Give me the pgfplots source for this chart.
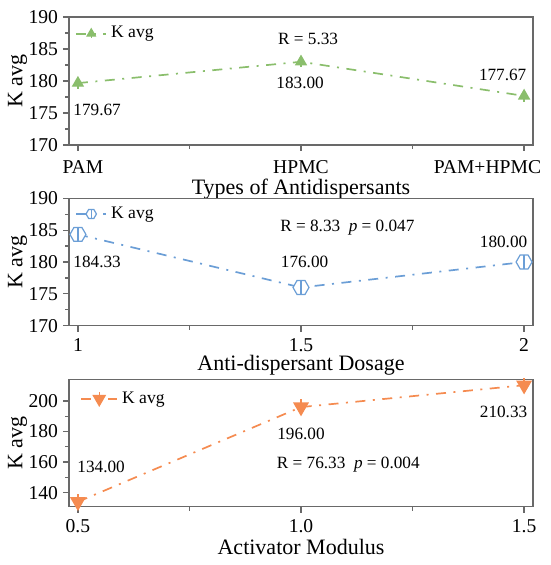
\documentclass[border=0pt]{standalone}
\usepackage{fontspec}
\setmainfont{Liberation Serif}
\usepackage{pgfplots}
\pgfplotsset{compat=1.18}
\definecolor{cgreen}{RGB}{138,190,108}
\definecolor{cblue}{RGB}{107,158,214}
\definecolor{corange}{RGB}{245,139,80}
\definecolor{axgray}{RGB}{105,105,105}

\pgfdeclareplotmark{tribar}{%
  \pgfpathmoveto{\pgfqpoint{0pt}{\pgfplotmarksize}}%
  \pgfpathlineto{\pgfqpoint{0.866\pgfplotmarksize}{-0.5\pgfplotmarksize}}%
  \pgfpathlineto{\pgfqpoint{-0.866\pgfplotmarksize}{-0.5\pgfplotmarksize}}%
  \pgfpathclose
  \pgfusepathqfillstroke
  \pgfpathmoveto{\pgfqpoint{0pt}{-0.5\pgfplotmarksize}}%
  \pgfpathlineto{\pgfqpoint{0pt}{-0.95\pgfplotmarksize}}%
  \pgfusepathqstroke
}
\pgfdeclareplotmark{invtribar}{%
  \pgfpathmoveto{\pgfqpoint{0pt}{-\pgfplotmarksize}}%
  \pgfpathlineto{\pgfqpoint{0.866\pgfplotmarksize}{0.5\pgfplotmarksize}}%
  \pgfpathlineto{\pgfqpoint{-0.866\pgfplotmarksize}{0.5\pgfplotmarksize}}%
  \pgfpathclose
  \pgfusepathqfillstroke
  \pgfpathmoveto{\pgfqpoint{0pt}{0.5\pgfplotmarksize}}%
  \pgfpathlineto{\pgfqpoint{0pt}{0.95\pgfplotmarksize}}%
  \pgfusepathqstroke
}
\pgfdeclareplotmark{hexbar}{%
  \pgfpathmoveto{\pgfqpoint{\pgfplotmarksize}{0pt}}%
  \pgfpathlineto{\pgfqpoint{0.5\pgfplotmarksize}{0.866\pgfplotmarksize}}%
  \pgfpathlineto{\pgfqpoint{-0.5\pgfplotmarksize}{0.866\pgfplotmarksize}}%
  \pgfpathlineto{\pgfqpoint{-\pgfplotmarksize}{0pt}}%
  \pgfpathlineto{\pgfqpoint{-0.5\pgfplotmarksize}{-0.866\pgfplotmarksize}}%
  \pgfpathlineto{\pgfqpoint{0.5\pgfplotmarksize}{-0.866\pgfplotmarksize}}%
  \pgfpathclose
  \pgfusepathqfillstroke
  \pgfpathmoveto{\pgfqpoint{0pt}{0.9\pgfplotmarksize}}%
  \pgfpathlineto{\pgfqpoint{0pt}{-0.9\pgfplotmarksize}}%
  \pgfusepathqstroke
}

\pgfplotsset{
  panel/.style={
    scale only axis, width=232pt, height=64pt,
    axis line style={draw=axgray, line width=0.65pt},
    tick align=outside, tick pos=left,
    major tick length=3pt, minor tick length=2pt,
    tick style={draw=axgray, line width=0.6pt},
    ticklabel style={font=\fontsize{9.8}{11}\selectfont},
    yticklabel style={xshift=1pt},
    /pgf/number format/assume math mode=true,
    every axis x label/.style={at={(axis description cs:0.5,0)}, anchor=north, inner sep=0pt, font=\fontsize{11}{13}\selectfont},
    every axis y label/.style={at={(axis description cs:0,0.5)}, rotate=90, anchor=center, inner sep=0pt, yshift=25.75pt, font=\fontsize{11}{13}\selectfont},
    ylabel={K avg},
    clip=false,
    minor y tick num=1,
    legend style={draw=none, fill=none, at={(axis description cs:0,1)}, anchor=north west,
      font=\fontsize{8.8}{10}\selectfont, inner sep=0pt},
    legend cell align=left,
  },
  kline/.style={line width=0.85pt, dash pattern=on 5pt off 3.75pt on 1pt off 3.75pt},
}
\tikzset{anno/.style={font=\fontsize{8.6}{10}\selectfont, inner sep=0pt, anchor=center}}

\begin{document}
\begin{tikzpicture}
\path[use as bounding box] (0,0) rectangle (275pt,-282.5pt);

% ---------- Panel 1 ----------
\begin{axis}[panel, at={(34.5pt,-72.5pt)}, anchor=south west,
  xmin=-0.04, xmax=2.04, ymin=170, ymax=190,
  xtick={0,1,2},
  xticklabels={\hspace*{5pt}PAM, HPMC, \makebox[0pt][r]{PAM+HPMC\hspace*{-8.5pt}}},
  xticklabel style={yshift=-1.2pt},
  minor xtick={0.5,1.5},
  ytick={170,175,180,185,190},
  xlabel={Types of Antidispersants}, xlabel style={yshift=-16.9pt},
  legend style={xshift=3pt, yshift=-2.5pt},
  legend image code/.code={\draw[mark repeat=2,mark phase=2,#1, mark size=2.4pt] plot coordinates {(0pt,0pt) (7.5pt,0pt) (15pt,0pt)};},
]
\addplot[kline, color=cgreen, mark=tribar, mark size=3pt,
  mark options={solid, line width=0.6pt, fill=cgreen}]
  coordinates {(0,179.67) (1,183.00) (2,177.67)};
\addlegendentry{K avg}
\node[anno] at (axis cs:1.032,186.5) {R = 5.33};
\node[anno] at (axis cs:0.086,175.47) {179.67};
\node[anno] at (axis cs:0.996,179.64) {183.00};
\node[anno] at (axis cs:1.904,180.94) {177.67};
\end{axis}

% ---------- Panel 2 ----------
\begin{axis}[panel, at={(34.5pt,-162.85pt)}, anchor=south west, height=63.7pt,
  xmin=0.98, xmax=2.02, ymin=170, ymax=190,
  xtick={1,1.5,2}, minor xtick={1.25,1.75},
  ytick={170,175,180,185,190},
  xlabel={Anti-dispersant Dosage}, xlabel style={yshift=-14.7pt},
  legend style={xshift=3pt, yshift=-2pt},
  legend image code/.code={\draw[mark repeat=2,mark phase=2,#1, mark size=2.6pt] plot coordinates {(0pt,0pt) (7.5pt,0pt) (15pt,0pt)};},
]
\addplot[kline, color=cblue, mark=hexbar, mark size=4pt,
  mark options={solid, line width=0.6pt, fill=white}]
  coordinates {(1,184.33) (1.5,176.00) (2,180.00)};
\addlegendentry{K avg}
\node[anno] at (axis cs:1.604,185.38) {R = 8.33\enspace\textit{p} = 0.047};
\node[anno] at (axis cs:1.043,179.95) {184.33};
\node[anno] at (axis cs:1.508,179.95) {176.00};
\node[anno] at (axis cs:1.954,183.19) {180.00};
\end{axis}

% ---------- Panel 3 ----------
\begin{axis}[panel, at={(34.5pt,-253.35pt)}, anchor=south west, height=63.7pt,
  xmin=0.48, xmax=1.52, ymin=130.8, ymax=214.2,
  xtick={0.5,1.0,1.5}, minor xtick={0.75,1.25},
  xticklabel style={/pgf/number format/.cd, fixed, fixed zerofill, precision=1},
  ytick={140,160,180,200},
  xlabel={Activator Modulus}, xlabel style={yshift=-16pt},
  legend style={xshift=5.5pt, yshift=-4pt},
  legend image code/.code={\draw[mark repeat=2,mark phase=2,#1, mark size=3.4pt] plot coordinates {(0pt,0pt) (9pt,0pt) (18pt,0pt)};},
]
\addplot[kline, color=corange, mark=invtribar, mark size=4pt,
  mark options={solid, line width=0.6pt, fill=corange}]
  coordinates {(0.5,134.00) (1.0,196.00) (1.5,210.33)};
\addlegendentry{K avg}
\node[anno] at (axis cs:0.552,157.0) {134.00};
\node[anno] at (axis cs:1.0,178.4) {196.00};
\node[anno] at (axis cs:1.454,193.0) {210.33};
\node[anno] at (axis cs:1.106,158.1) {R = 76.33\enspace\textit{p} = 0.004};
\end{axis}
\end{tikzpicture}
\end{document}
